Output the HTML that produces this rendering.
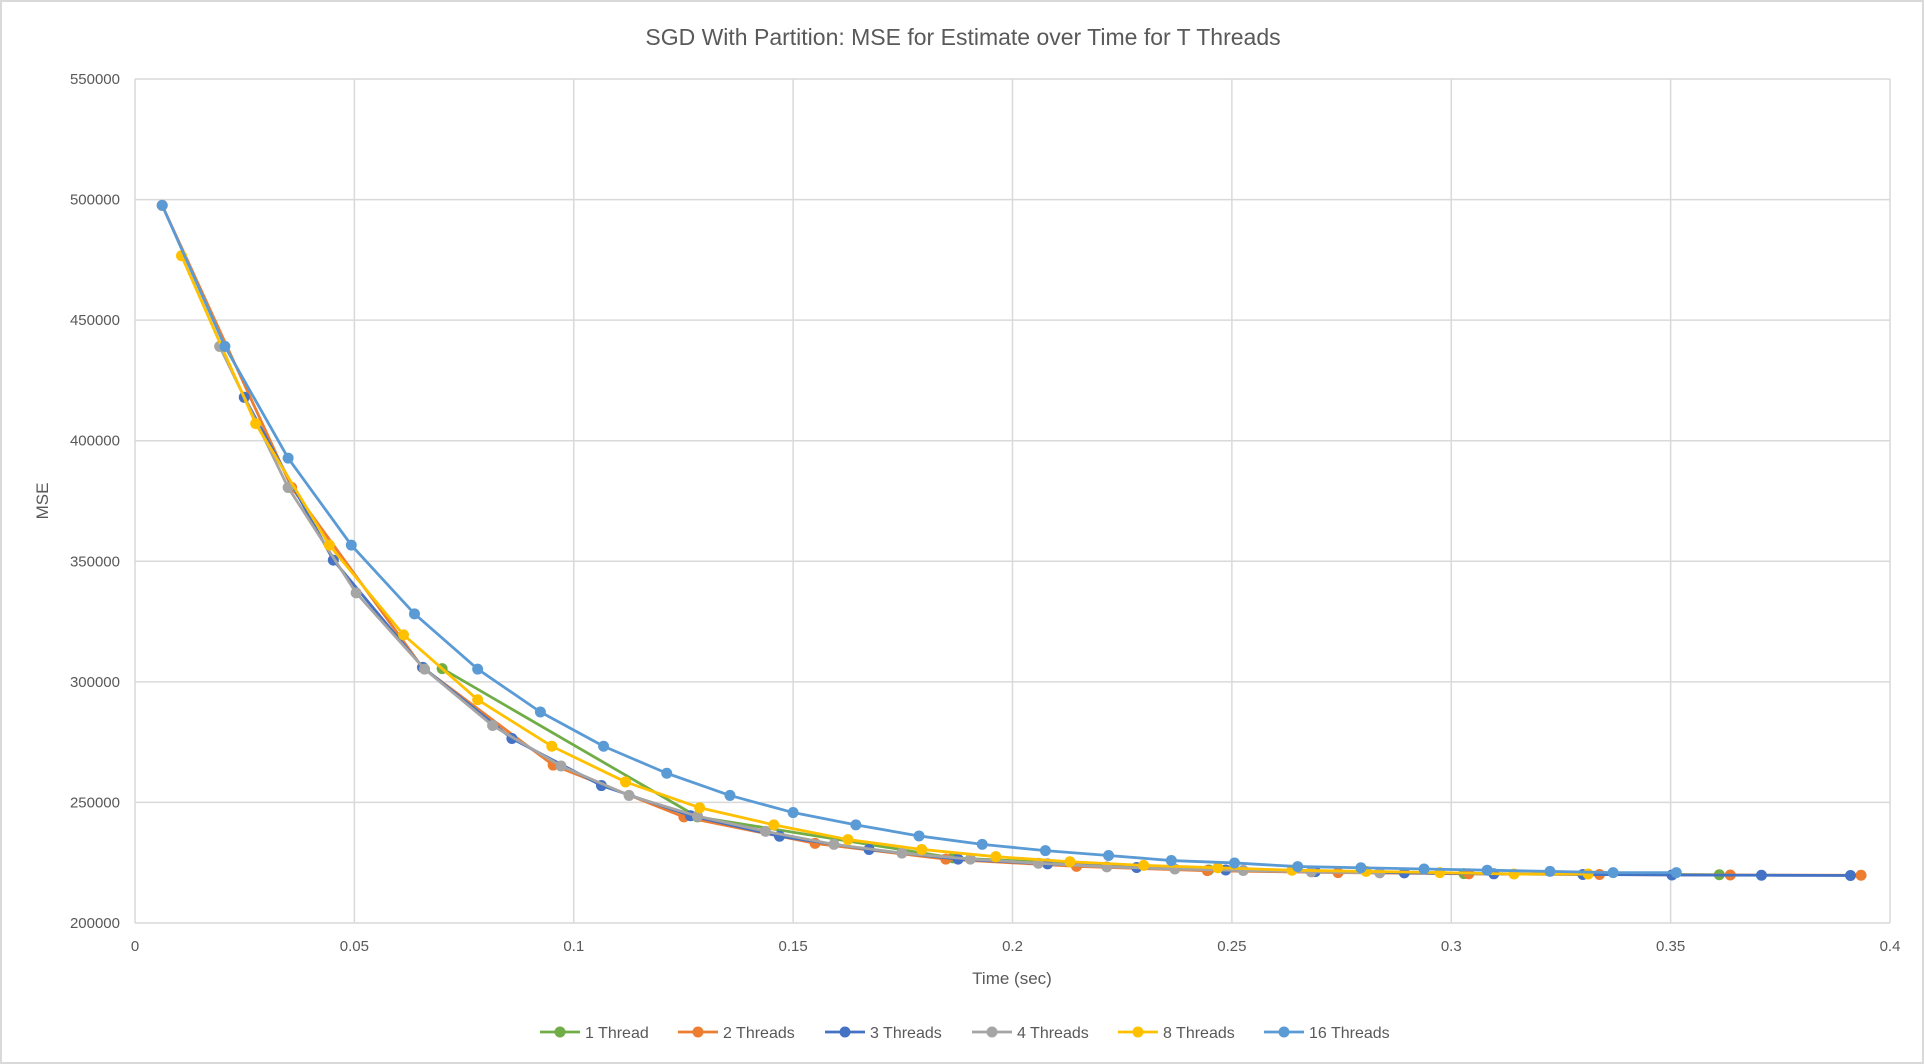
<!DOCTYPE html>
<html><head><meta charset="utf-8"><style>
html,body{margin:0;padding:0;background:#fff;}
svg{display:block;font-family:"Liberation Sans",sans-serif;}
</style></head><body>
<svg id="chart" width="1924" height="1064" viewBox="0 0 1924 1064" xmlns="http://www.w3.org/2000/svg">
<rect x="1" y="1" width="1922" height="1062" fill="#fff" stroke="#d9d9d9" stroke-width="2"/>
<text x="963" y="45" font-size="23" fill="#595959" text-anchor="middle">SGD With Partition: MSE for Estimate over Time for T Threads</text>
<g id="grid"></g>
<g id="axes"></g>
<g id="series"></g>
<text x="1012" y="984" font-size="17" fill="#595959" text-anchor="middle">Time (sec)</text>
<text x="48" y="501" font-size="17" fill="#595959" text-anchor="middle" transform="rotate(-90 48 501)">MSE</text>
<g id="legend"></g>
</svg>
<script>
const xTicks=[0,0.05,0.1,0.15,0.2,0.25,0.3,0.35,0.4];
const xTickLabels=["0","0.05","0.1","0.15","0.2","0.25","0.3","0.35","0.4"];
const yTicks=[200000,250000,300000,350000,400000,450000,500000,550000];
const seriesNames=["1 Thread","2 Threads","3 Threads","4 Threads","8 Threads","16 Threads"];
const seriesColors=["#70AD47","#ED7D31","#4472C4","#A5A5A5","#FFC000","#5B9BD5"];
const t1=[0.0700,0.1282,0.1864,0.2447,0.3029,0.3611];
const v1=[305500,244000,227000,222000,220500,220000];
const t2=[0.0062,0.0357,0.0655,0.0953,0.1251,0.1550,0.1848,0.2146,0.2444,0.2742,0.3040,0.3338,0.3636,0.3934];
const v2=[497600,380600,306000,265500,244000,233000,226500,223500,221700,220900,220400,220100,219900,219800];
const t3=[0.0249,0.0452,0.0656,0.0859,0.1063,0.1266,0.1469,0.1673,0.1876,0.2080,0.2283,0.2486,0.2690,0.2893,0.3097,0.3300,0.3503,0.3707,0.3910];
const v3=[418000,350500,306000,276500,257000,244500,236000,230500,226500,224500,223000,222000,221300,220800,220400,220100,219900,219800,219700];
const t4=[0.0193,0.0349,0.0504,0.0660,0.0815,0.0971,0.1126,0.1282,0.1437,0.1593,0.1748,0.1904,0.2059,0.2215,0.2370,0.2526,0.2681,0.2837];
const v4=[439100,380600,336900,305300,281900,265100,252900,244300,238000,232600,229000,226500,224800,223300,222400,221800,221200,220800];
const t8=[0.0106,0.0275,0.0443,0.0612,0.0781,0.0950,0.1118,0.1287,0.1456,0.1625,0.1793,0.1962,0.2131,0.2299,0.2468,0.2637,0.2806,0.2974,0.3143,0.3312];
const v8=[476700,407100,356700,319500,292600,273300,258500,247800,240700,234600,230500,227500,225400,223900,222900,221900,221400,220900,220300,220300];
const t16=[0.0062,0.0205,0.0349,0.0493,0.0637,0.0781,0.0924,0.1068,0.1212,0.1356,0.1500,0.1643,0.1787,0.1931,0.2075,0.2219,0.2362,0.2506,0.2650,0.2794,0.2938,0.3082,0.3225,0.3369,0.3513];
const v16=[497600,439100,392800,356700,328200,305300,287500,273300,262100,252900,245800,240700,236100,232600,230000,228000,225900,224900,223400,222900,222400,221900,221400,220900,220900];

const NS="http://www.w3.org/2000/svg";
const L=135,R=1890,T=79,B=923;
function xs(t){return L+(t-0)/(0.4-0)*(R-L);}
function ys(v){return B-(v-200000)/(550000-200000)*(B-T);}
function mk(tag,attrs,parent){const e=document.createElementNS(NS,tag);for(const k in attrs)e.setAttribute(k,attrs[k]);parent.appendChild(e);return e;}
const grid=document.getElementById('grid'),axes=document.getElementById('axes'),ser=document.getElementById('series'),leg=document.getElementById('legend');
xTicks.forEach((t,i)=>{
  const l=mk('line',{x1:xs(t),x2:xs(t),y1:T,y2:B,stroke:'#d9d9d9','stroke-width':1.5},grid);
  
  
  const tx=mk('text',{x:xs(t),y:B+28,'font-size':15,fill:'#595959','text-anchor':'middle'},axes);
  tx.textContent=xTickLabels[i];
  
  
});
yTicks.forEach(v=>{
  const l=mk('line',{x1:L,x2:R,y1:ys(v),y2:ys(v),stroke:'#d9d9d9','stroke-width':1.5},grid);
  
  
  const tx=mk('text',{x:L-15,y:ys(v)+5,'font-size':15,fill:'#595959','text-anchor':'end'},axes);
  tx.textContent=String(v);
  
  
});
const allT=[t1,t2,t3,t4,t8,t16],allV=[v1,v2,v3,v4,v8,v16];
allT.forEach((ts,si)=>{
  const g=mk('g',{},ser);
  
  
  const pts=ts.map((t,i)=>xs(t)+','+ys(allV[si][i])).join(' ');
  const pl=mk('polyline',{points:pts,fill:'none',stroke:seriesColors[si],'stroke-width':2.8,'stroke-linejoin':'round'},g);
  
  
  ts.forEach((t,i)=>{
    const c=mk('circle',{cx:xs(t),cy:ys(allV[si][i]),r:5.5,fill:seriesColors[si]},g);
    
    
  });
});
const legX=[540,678,825,972,1118,1264];
seriesNames.forEach((n,i)=>{
  const g=mk('g',{},leg);
  
  
  const y=1032;
  mk('line',{x1:legX[i],x2:legX[i]+40,y1:y,y2:y,stroke:seriesColors[i],'stroke-width':2.8},g);
  mk('circle',{cx:legX[i]+20,cy:y,r:5.5,fill:seriesColors[i]},g);
  const tx=mk('text',{x:legX[i]+45,y:y+6,'font-size':16,fill:'#595959'},g);
  tx.textContent=n;
});
</script>
</body></html>
